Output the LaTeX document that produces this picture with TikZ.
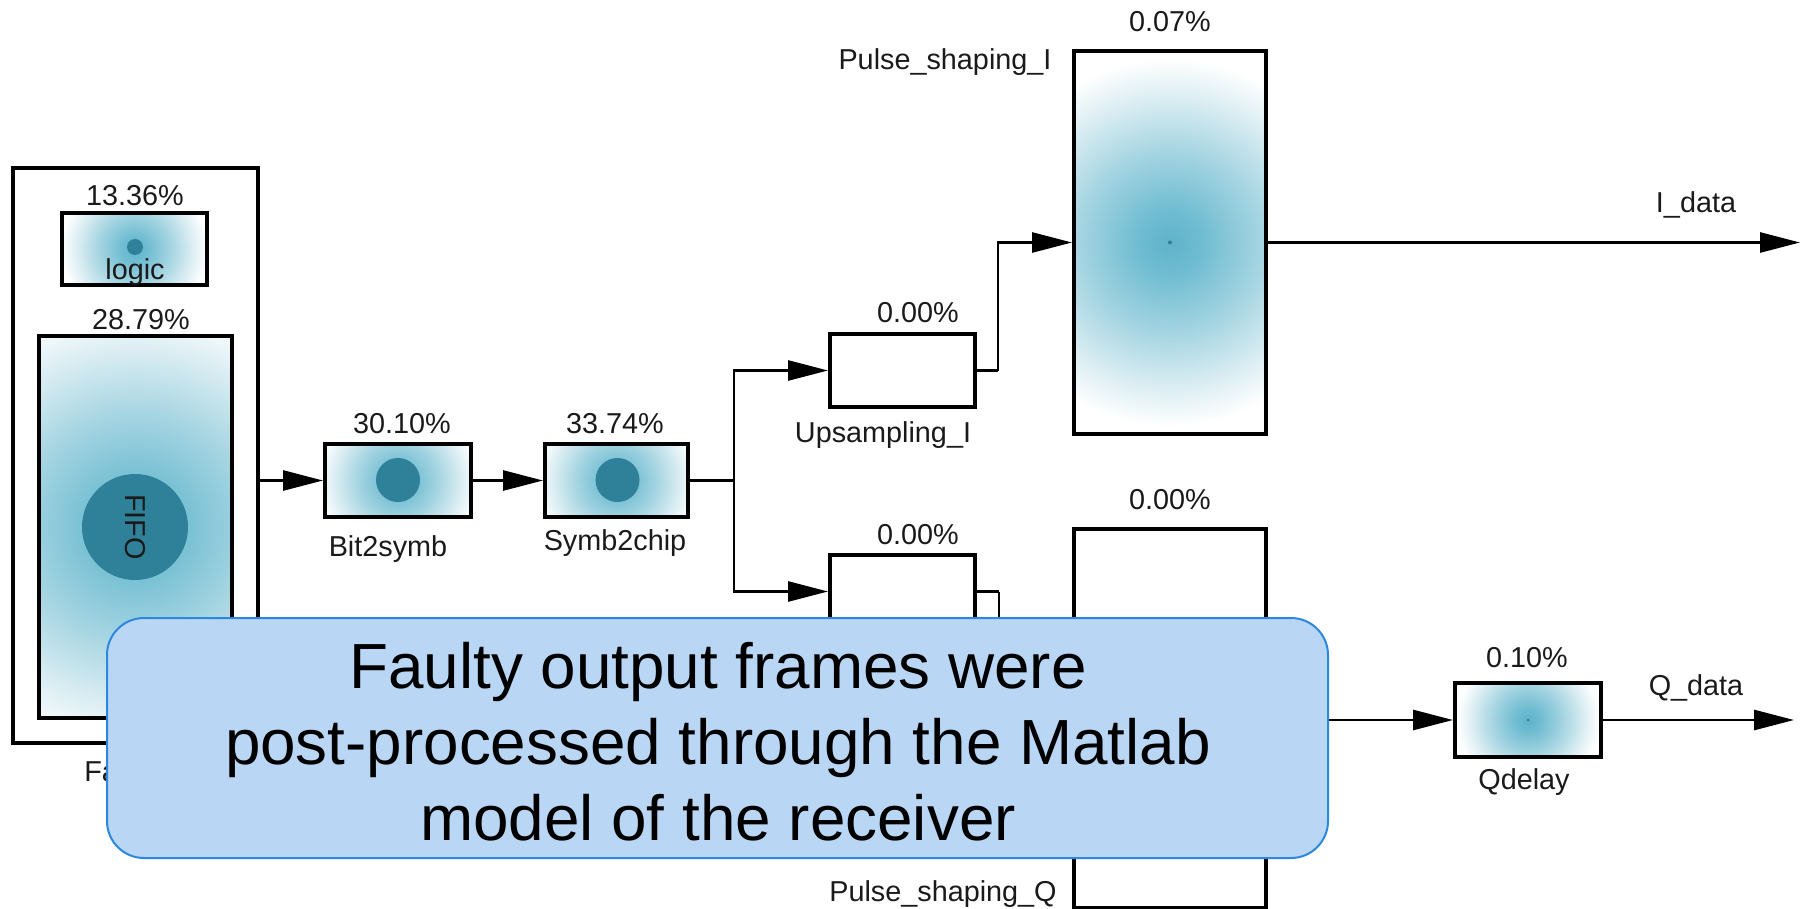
\documentclass[tikz,border=0pt]{standalone}
\usepackage{fontspec}
\setmainfont{Liberation Sans}
\usetikzlibrary{arrows.meta}

\definecolor{glowcore}{HTML}{5FB3CB}
\definecolor{glowa}{HTML}{6EBCD1}
\definecolor{glowb}{HTML}{A6D5E2}
\definecolor{glowc}{HTML}{DCEEF3}
\definecolor{dotteal}{HTML}{2F8099}
\definecolor{calloutfill}{HTML}{B9D7F5}
\definecolor{calloutline}{HTML}{2C88DE}
\definecolor{inktext}{HTML}{1A1A1A}

% round glow; 25bp is the rim of the circle it is painted on
\pgfdeclareradialshading{glow}{\pgfpoint{0bp}{0bp}}{%
  color(0bp)=(glowcore); color(4bp)=(glowa); color(12bp)=(glowb);
  color(19bp)=(glowc); color(24bp)=(white); color(40bp)=(white)}

\tikzset{
  blk/.style={draw=black, line width=2pt, inner sep=0pt},
  glowblk/.style={blk, fill=white, path picture={
      \shade[shading=glow] (path picture bounding box.center) circle (#1);}},
  plainblk/.style={blk, fill=white},
  core/.style={circle, fill=dotteal, inner sep=0pt, draw=none},
  lbl/.style={inner sep=0pt, text=inktext, font=\fontsize{14.4}{17}\selectfont},
  wire/.style={line width=1.35pt, draw=black},
  flow/.style={wire, -{Triangle[length=20pt, width=10pt]}},
  note/.style={draw=calloutline, line width=1pt, fill=calloutfill,
    rounded corners=18.5pt, inner sep=0pt},
  notetext/.style={inner sep=0pt, align=center,
    font=\fontsize{31.9}{38}\selectfont}
}

\begin{document}
\begin{tikzpicture}[x=0.5pt, y=-0.5pt]
\useasboundingbox (0,0) rectangle (1803,909);

% ---- left block with its two sub-blocks
\node[blk, minimum width=122.5pt, minimum height=287.5pt] (frame) at (135.5,455.5) {};
\node[glowblk=38pt, minimum width=72.5pt, minimum height=36pt] (logic) at (134.5,249) {};
\node[core, minimum size=8pt] (logicdot) at (135,247) {};
\node[lbl] (logiclbl) at (135,272) {logic};
\node[lbl] (logicpct) at (135,196) {13.36\%};

\node[glowblk=118pt, minimum width=96.5pt, minimum height=191pt] (fifo) at (135.5,527) {};
\node[core, minimum size=53pt] (fifodot) at (135,527) {};
\node[lbl, rotate=-90] (fifolbl) at (135,527) {FIFO};
\node[lbl] (fifopct) at (141,320) {28.79\%};
\node[lbl, anchor=west] (framelbl) at (84,772) {Fa};

% ---- mapping chain
\node[glowblk=42pt, minimum width=73pt, minimum height=36.5pt] (b2s) at (398,480.5) {};
\node[core, minimum size=22pt] (b2sdot) at (398,480) {};
\node[lbl] (b2spct) at (402,424) {30.10\%};
\node[lbl] (b2slbl) at (388,549) {Bit2symb};

\node[glowblk=42pt, minimum width=71.5pt, minimum height=36.5pt] (s2c) at (616.5,480.5) {};
\node[core, minimum size=22pt] (s2cdot) at (617.5,480) {};
\node[lbl] (s2cpct) at (615,424) {33.74\%};
\node[lbl] (s2clbl) at (615,543) {Symb2chip};

% ---- I and Q branches
\node[plainblk, minimum width=72.5pt, minimum height=36.5pt] (upI) at (902.5,370.5) {};
\node[lbl] (upIpct) at (918,313) {0.00\%};
\node[lbl] (upIlbl) at (883,435) {Upsampling\_I};

\node[plainblk, minimum width=72.5pt, minimum height=36.5pt] (upQ) at (902.5,591.5) {};
\node[lbl] (upQpct) at (918,535) {0.00\%};

\node[glowblk=96pt, minimum width=96pt, minimum height=191.5pt] (psI) at (1170,242.5) {};
\node[core, minimum size=2pt] (psIdot) at (1170,242.5) {};
\node[lbl] (psIpct) at (1170,22) {0.07\%};
\node[lbl] (psIlbl) at (945,62) {Pulse\_shaping\_I};

\node[plainblk, minimum width=96pt, minimum height=189.5pt] (psQ) at (1170,718.5) {};
\node[lbl] (psQpct) at (1170,500) {0.00\%};
\node[lbl] (psQlbl) at (943,894) {Pulse\_shaping\_Q};

\node[glowblk=37pt, minimum width=73pt, minimum height=37pt] (qd) at (1528,720) {};
\node[core, minimum size=1.5pt] (qddot) at (1528,720) {};
\node[lbl] (qdpct) at (1527,658) {0.10\%};
\node[lbl] (qdlbl) at (1524,782) {Qdelay};

% ---- outputs
\coordinate (Iout) at (1800,242.5);
\coordinate (Qout) at (1794,720);
\node[lbl] (Ilbl) at (1696,205) {I\_data};
\node[lbl] (Qlbl) at (1696,688) {Q\_data};

% ---- connectors
\coordinate (split) at (734,480.5);
\coordinate (bendI) at (998,370.5);
\coordinate (bendQ) at (999,591.5);

\draw[flow] (frame.east |- b2s.west) -- (b2s.west);
\draw[flow] (b2s.east) -- (s2c.west);
\draw[wire] (s2c.east) -- (split);
\draw[flow] (split) |- (upI.west);
\draw[flow] (split) |- (upQ.west);
\draw[wire] (upI.east) -- (bendI);
\draw[flow] (bendI) |- (psI.west);
\draw[wire] (upQ.east) -- (bendQ);
\draw[flow] (bendQ) |- (psQ.west);
\draw[flow] (psI.east) -- (Iout);
\draw[flow] (psQ.east |- qd.west) -- (qd.west);
\draw[flow] (qd.east) -- (Qout);

% ---- overlaid remark
\node[note, minimum width=610.5pt, minimum height=120pt] (remark) at (717.5,738) {};
\node[notetext] (remarktext) at (718,742) {Faulty output frames were\\post-processed through the Matlab\\model of the receiver};
\end{tikzpicture}
\end{document}
